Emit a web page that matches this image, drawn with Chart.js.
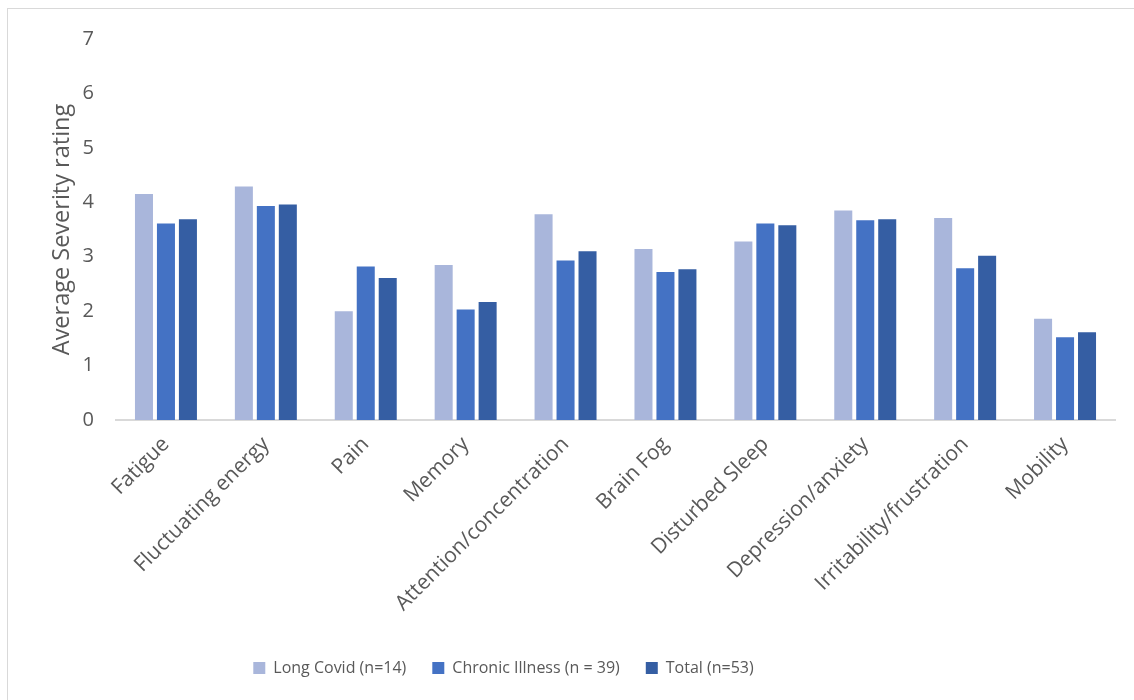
<!DOCTYPE html>
<html>
<head>
<meta charset="utf-8">
<script src="https://cdn.jsdelivr.net/npm/chart.js@4.4.1/dist/chart.umd.min.js"></script>
<style>
  html, body { margin: 0; padding: 0; background: #fff; }
  #wrap { position: relative; width: 1134px; height: 700px; }
  #frame { position: absolute; left: 7px; top: 8px; right: -2px; bottom: -2px; border-left: 1px solid #d9d9d9; border-top: 1px solid #d9d9d9; }
  canvas { position: absolute; left: 0; top: 0; }
</style>
</head>
<body>
<div id="wrap">
  <div id="frame"></div>
  <canvas id="c" width="1134" height="700"></canvas>
</div>
<script>
const categories = ["Fatigue", "Fluctuating energy", "Pain", "Memory", "Attention/concentration", "Brain Fog", "Disturbed Sleep", "Depression/anxiety", "Irritability/frustration", "Mobility"];
const longCovid = [4.15, 4.29, 2.00, 2.85, 3.78, 3.14, 3.28, 3.85, 3.71, 1.86];
const chronicIllness = [3.61, 3.93, 2.82, 2.03, 2.93, 2.72, 3.61, 3.67, 2.79, 1.52];
const total = [3.69, 3.96, 2.61, 2.17, 3.10, 2.77, 3.58, 3.69, 3.02, 1.61];
const seriesNames = ["Long Covid (n=14)", "Chronic Illness (n = 39)", "Total (n=53)"];
const yTicks = [0, 1, 2, 3, 4, 5, 6, 7];

const FONT = "'Open Sans', sans-serif";
const TXT = "#595959";

const shiftLegend = {
  id: 'shiftLegend',
  afterLayout(chart) {
    const lg = chart.legend;
    if (lg) { lg.left -= 54; lg.right -= 54; }
  }
};

new Chart(document.getElementById('c'), {
  type: 'bar',
  data: {
    labels: categories,
    datasets: [
      { label: seriesNames[0], data: longCovid, backgroundColor: '#a9b6db' },
      { label: seriesNames[1], data: chronicIllness, backgroundColor: '#4472c4' },
      { label: seriesNames[2], data: total, backgroundColor: '#355ea3' }
    ]
  },
  plugins: [shiftLegend],
  options: {
    responsive: false,
    animation: false,
    events: [],
    layout: { padding: { left: 0, right: 19, top: 39, bottom: 14 } },
    datasets: { bar: { categoryPercentage: 0.66, barPercentage: 0.82 } },
    plugins: {
      tooltip: { enabled: false },
      legend: {
        position: 'bottom',
        labels: {
          boxWidth: 12, boxHeight: 12, padding: 26,
          color: TXT, font: { family: FONT, size: 16 }
        }
      }
    },
    scales: {
      x: {
        grid: { display: false },
        border: { display: true, color: '#d9d9d9', width: 2 },
        ticks: { color: TXT, font: { family: FONT, size: 21 }, minRotation: 45, maxRotation: 45, padding: 4 },
        afterFit: s => { s.height = 214; }
      },
      y: {
        min: 0, max: 7,
        afterBuildTicks: s => { s.ticks = yTicks.map(v => ({ value: v })); },
        grid: { display: false, drawTicks: false },
        border: { display: false },
        ticks: { color: TXT, font: { family: FONT, size: 20 }, padding: 22 },
        title: { display: true, text: 'Average Severity rating', color: TXT, font: { family: FONT, size: 23.5 }, padding: { top: 48, bottom: 0 } },
        afterFit: s => { s.width = 116; }
      }
    }
  }
});
</script>
</body>
</html>
